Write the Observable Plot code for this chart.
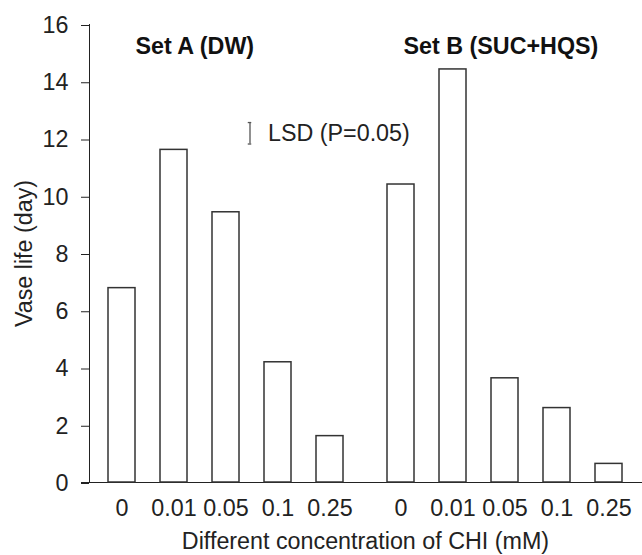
<!DOCTYPE html>
<html><head><meta charset="utf-8">
<script src="https://cdn.jsdelivr.net/npm/d3@7"></script>
<script src="https://cdn.jsdelivr.net/npm/@observablehq/plot@0.6"></script>
<style>body{margin:0;background:#fff}</style>
</head><body><div id="chart"></div>
<script>
const sets = ["A", "B"];
const setLabels = ["Set A (DW)", "Set B (SUC+HQS)"];
const concentrations = ["0", "0.01", "0.05", "0.1", "0.25"];
const vaseLifeA = [6.79, 11.62, 9.44, 4.2, 1.62];
const vaseLifeB = [10.41, 14.43, 3.64, 2.6, 0.65];
const yTicks = [0, 2, 4, 6, 8, 10, 12, 14, 16];
const lsdValue = 0.75;
const lsdCenter = 12.2;
const lsdLabel = "LSD (P=0.05)";
const yLabel = "Vase life (day)";
const xLabel = "Different concentration of CHI (mM)";

const data = [
  ...concentrations.map((c, i) => ({set: sets[0], conc: c, value: vaseLifeA[i]})),
  ...concentrations.map((c, i) => ({set: sets[1], conc: c, value: vaseLifeB[i]}))
];
const lsdData = [{set: "A", conc: "0.05", y1: lsdCenter - lsdValue / 2, y2: lsdCenter + lsdValue / 2}];
const lsdCaps = [{set: "A", conc: "0.05", y: lsdCenter - lsdValue / 2}, {set: "A", conc: "0.05", y: lsdCenter + lsdValue / 2}];

const FS = 23.3;
const chart = Plot.plot({
  width: 642,
  height: 555,
  marginLeft: 88,
  marginRight: 0,
  marginTop: 24,
  marginBottom: 73,
  style: {fontFamily: "'Liberation Sans', Arial, sans-serif", fontSize: FS + "px", color: "#222", background: "white"},
  fx: {domain: sets, paddingInner: 0.0214, paddingOuter: 0},
  x: {domain: concentrations, paddingInner: 0.476, paddingOuter: 0.348},
  y: {domain: [0, 16]},
  marks: [
    Plot.axisY({ticks: yTicks, tickSize: 8, tickPadding: 13, dy: 1, stroke: "#222", label: yLabel, labelAnchor: "center", labelOffset: 74, labelArrow: "none", fontSize: FS}),
    Plot.axisX({tickSize: 0, tickPadding: 17, label: null, fontSize: FS}),
    Plot.axisFx({anchor: "bottom", tickSize: 0, tickFormat: () => "", label: xLabel, labelAnchor: "center", labelOffset: 66, labelArrow: "none", fontSize: FS}),
    Plot.frame({anchor: "left", facetAnchor: "left", stroke: "#222"}),
    Plot.ruleY([0], {insetLeft: -8, insetRight: -6, stroke: "#222"}),
    Plot.barY(data, {fx: "set", x: "conc", y: "value", fill: "white", stroke: "#333", strokeWidth: 1.5}),
    Plot.ruleX(lsdData, {fx: "set", x: "conc", y1: "y1", y2: "y2", dx: 24, stroke: "#555", strokeWidth: 1.3}),
    Plot.tickY(lsdCaps, {fx: "set", x: "conc", y: "y", dx: 24, insetLeft: 11.75, insetRight: 11.75, stroke: "#555", strokeWidth: 1.3}),
    Plot.text(lsdData, {fx: "set", x: "conc", y: () => lsdCenter, text: () => lsdLabel, dx: 42, textAnchor: "start", fontSize: FS, fill: "#222"}),
    Plot.text([{set: sets[0], label: setLabels[0]}], {fx: "set", text: "label", frameAnchor: "top-left", lineAnchor: "top", dx: 46, dy: 13, fontWeight: "bold", fontSize: FS, fill: "#111"}),
    Plot.text([{set: sets[1], label: setLabels[1]}], {fx: "set", text: "label", frameAnchor: "top-left", lineAnchor: "top", dx: 35, dy: 13, fontWeight: "bold", fontSize: FS, fill: "#111"})
  ]
});
document.getElementById("chart").appendChild(chart);
</script>
</body></html>
